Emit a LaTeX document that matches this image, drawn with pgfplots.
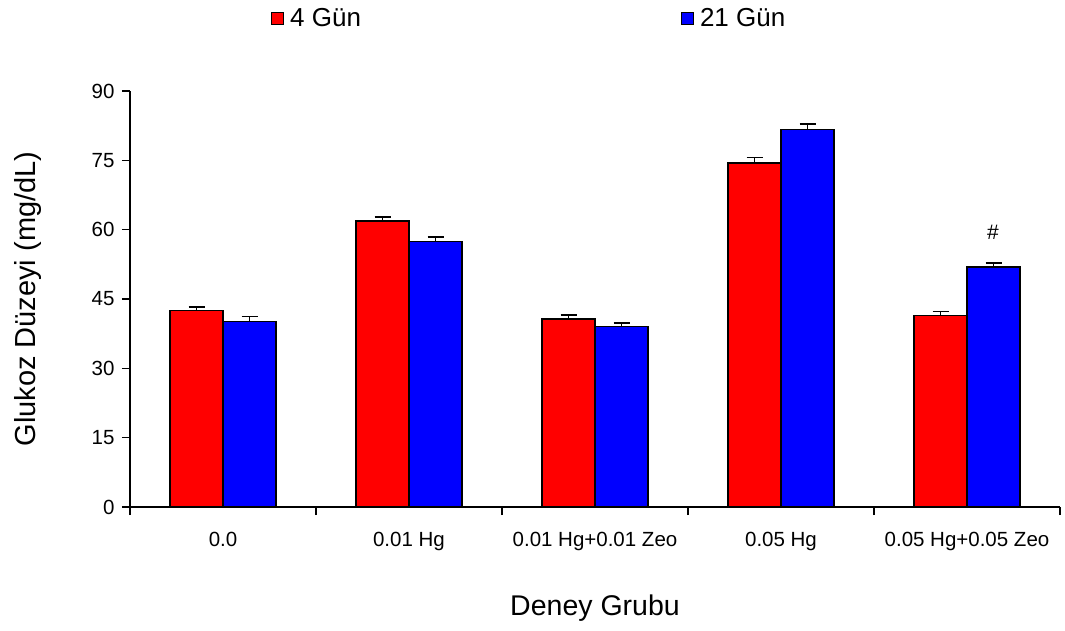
\documentclass[border=0pt]{standalone}
\usepackage{fontspec}
\setmainfont{Liberation Sans}
\usepackage{pgfplots}
\pgfplotsset{compat=1.18}
\begin{document}
\begin{tikzpicture}
\path[use as bounding box] (0pt,0pt) rectangle (1065pt,630pt);
\begin{axis}[
  at={(130pt,123pt)}, anchor=south west,
  width=930pt, height=416pt, scale only axis,
  xmin=-0.5, xmax=4.5, ymin=0, ymax=90,
  axis x line*=bottom, axis y line*=left,
  axis line style={line width=1.2pt, -},
  ytick={0,15,30,45,60,75,90},
  xtick={-0.5,0.5,1.5,2.5,3.5,4.5},
  xticklabels={0.0, 0.01 Hg, 0.01 Hg+0.01 Zeo, 0.05 Hg, 0.05 Hg+0.05 Zeo, {}},
  x tick label style={xshift=93pt, yshift=-14pt, font=\fontsize{20.5}{24}\selectfont},
  y tick label style={xshift=-4pt, font=\fontsize{20.5}{24}\selectfont},
  tick align=outside, major tick length=8pt,
  tick style={black, line width=1.2pt},
  /pgf/number format/assume math mode=true,
  ybar=0pt, bar width=53pt,
  ylabel={Glukoz Düzeyi (mg/dL)},
  xlabel={Deney Grubu},
  ylabel style={at={(axis description cs:-0.11,0.5)}, anchor=center, font=\fontsize{29}{33}\selectfont},
  xlabel style={at={(axis description cs:0.5,-0.243)}, anchor=center, font=\fontsize{28.5}{33}\selectfont},
  legend columns=2,
  legend style={at={(axis description cs:0.1516,1.175)}, anchor=west, draw=none, fill=none, inner sep=0pt,
    font=\fontsize{26}{30}\selectfont,
    /tikz/every odd column/.append style={column sep=4pt},
    /tikz/every even column/.append style={column sep=318pt}},
  legend image code/.code={\draw[#1, line width=1pt] (0pt,-6pt) rectangle (12pt,6pt);},
  error bars/y dir=plus, error bars/y explicit,
  error bars/error bar style={line width=1.8pt, black},
  error bars/error mark options={rotate=90, mark size=8pt, line width=1.8pt, black},
  clip=false,
]
\addplot[fill=red, draw=black, line width=1.3pt] coordinates {
  (0,42.5) +- (0,0.8)
  (1,61.9) +- (0,0.8)
  (2,40.7) +- (0,0.8)
  (3,74.4) +- (0,1.2)
  (4,41.5) +- (0,0.8)
};
\addplot[fill=blue, draw=black, line width=1.3pt] coordinates {
  (0,40.2) +- (0,1.0)
  (1,57.5) +- (0,0.9)
  (2,39.0) +- (0,0.8)
  (3,81.6) +- (0,1.3)
  (4,51.9) +- (0,0.9)
};
\legend{4 Gün, 21 Gün}
\node[font=\fontsize{21}{24}\selectfont] at (axis cs:4.14,59.5) {\#};
\end{axis}
\end{tikzpicture}
\end{document}
